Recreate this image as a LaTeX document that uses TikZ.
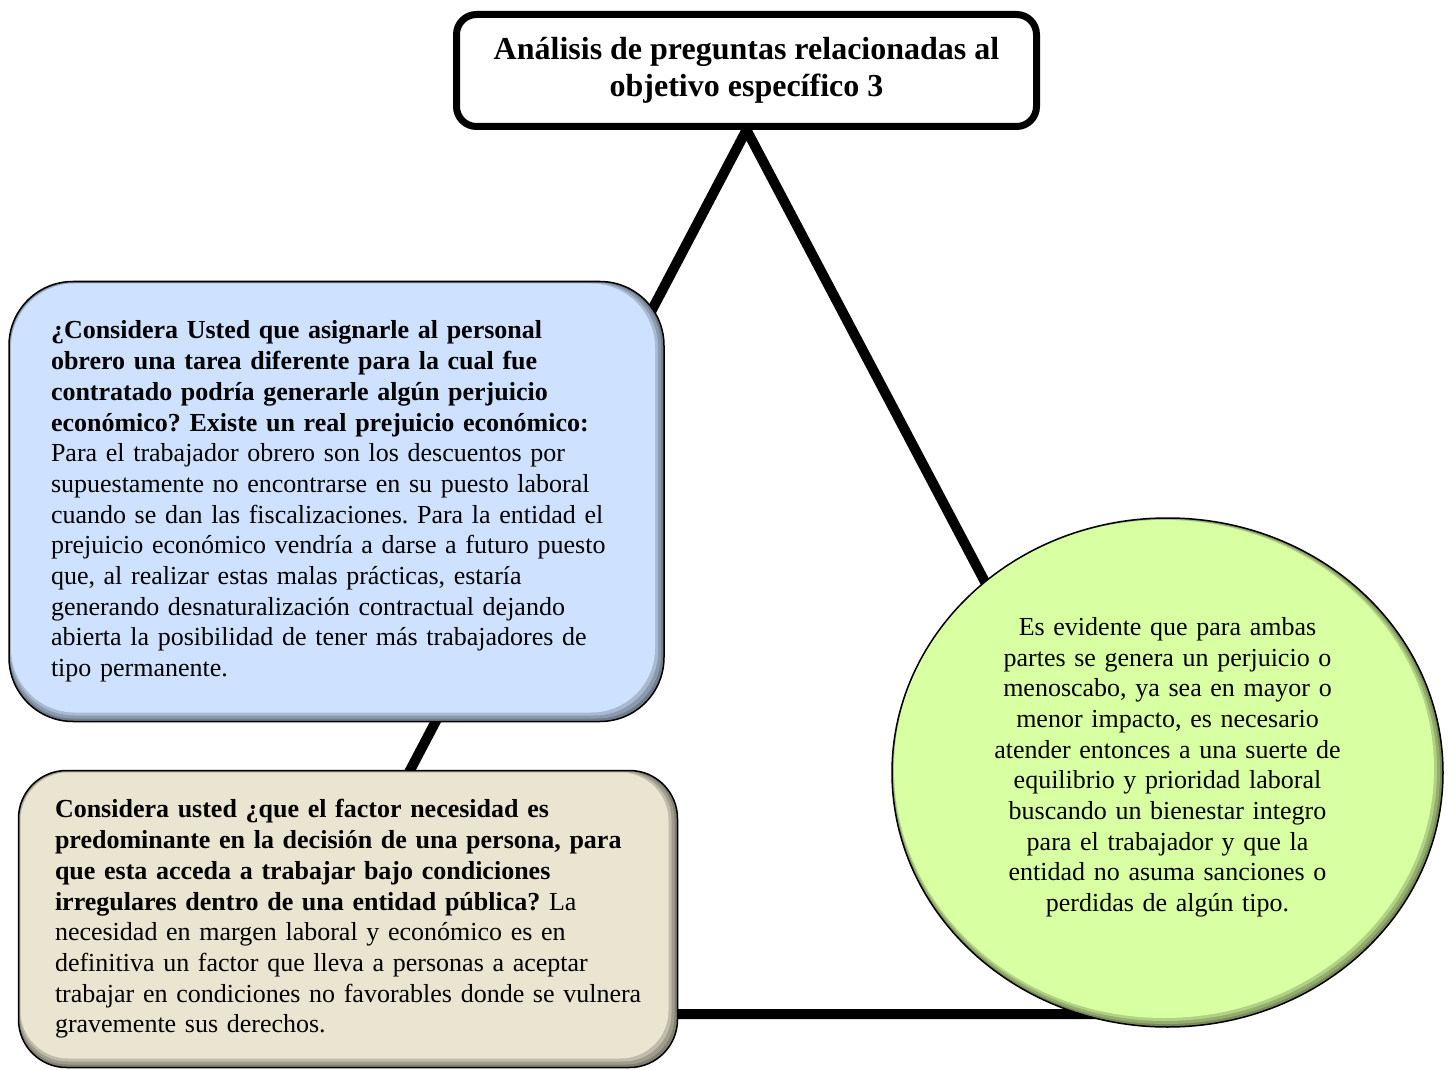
\documentclass[tikz,border=0pt]{standalone}
\usepackage{fontspec}
\setmainfont{Liberation Serif}
\usepackage{tikz}
\usetikzlibrary{shapes.geometric}
\usetikzlibrary{backgrounds}
\frenchspacing
\definecolor{cardblue}{RGB}{206,226,255}
\definecolor{cardbeige}{RGB}{234,229,208}
\definecolor{cardgreen}{RGB}{216,255,162}
\tikzset{
	edge/.style={draw=black, line width=5pt, line join=round},
	titlebox/.style={draw=black, line width=3.5pt, fill=white, rounded corners=10pt,
		minimum width=290pt, minimum height=56pt, inner sep=0pt, align=center,
		font=\fontsize{16}{18.5}\selectfont\bfseries},
	% rounded card with a soft bevel, darker on the lower right
	bevelbox/.style 2 args={draw=black, line width=0.75pt, rounded corners=#2,
		inner sep=0pt, align=left, font=\fontsize{13}{15.35}\selectfont,
		path picture={
			\foreach \ta/\tb/\tm in {0/0/55, 0.4/1.5/68, 0.7/3/82, 1/4.5/100}
				\fill[#1!\tm!black, rounded corners=#2]
					([shift={(\ta pt,-\ta pt)}]path picture bounding box.north west) rectangle
					([shift={(-\tb pt,\tb pt)}]path picture bounding box.south east);
		}},
	bevelround/.style={draw=black, line width=0.75pt, ellipse, inner sep=0pt,
		align=center, font=\fontsize{13}{15.35}\selectfont,
		path picture={
			\foreach \ta/\tb/\tm in {0/0/55, 0.4/1.5/68, 0.7/3/82, 1/4.5/100}
				\fill[#1!\tm!black]
					([shift={({(\ta-\tb)/2*1pt},{(\tb-\ta)/2*1pt})}]path picture bounding box.center)
					ellipse [x radius={137.75pt-(\ta+\tb)/2*1pt}, y radius={127.25pt-(\ta+\tb)/2*1pt}];
		}},
}

\begin{document}
\begin{tikzpicture}[x=0.5pt, y=-0.5pt]
	\useasboundingbox (0,0) rectangle (1453,1070);
	\node[titlebox] (title) at (746.5,70.5) {Análisis de preguntas relacionadas al\\objetivo específico 3};
	\node[bevelbox={cardblue}{32pt}, minimum width=327.5pt, minimum height=220pt, text width=285.5pt] (question1) at (336.5,501.5)
		{{\bfseries ¿Considera Usted que asignarle al personal\\
		obrero una tarea diferente para la cual fue\\
		contratado podría generarle algún perjuicio\\
		económico? Existe un real prejuicio económico:}\\
		Para el trabajador obrero son los descuentos por\\
		supuestamente no encontrarse en su puesto laboral\\
		cuando se dan las fiscalizaciones. Para la entidad el\\
		prejuicio económico vendría a darse a futuro puesto\\
		que, al realizar estas malas prácticas, estaría\\
		generando desnaturalización contractual dejando\\
		abierta la posibilidad de tener más trabajadores de\\
		tipo permanente.};
	\node[bevelbox={cardbeige}{24pt}, minimum width=329.5pt, minimum height=148.5pt, text width=293pt] (question2) at (348,919)
		{{\bfseries Considera usted ¿que el factor necesidad es\\
		predominante en la decisión de una persona, para\\
		que esta acceda a trabajar bajo condiciones\\
		irregulares dentro de una entidad pública?} La\\
		necesidad en margen laboral y económico es en\\
		definitiva un factor que lleva a personas a aceptar\\
		\mbox{trabajar en condiciones no favorables donde se vulnera}\\
		gravemente sus derechos.};
	\node[bevelround=cardgreen, minimum width=275.5pt, minimum height=254.5pt, text width=185pt] (answer) at (1167.5,772.5)
		{Es evidente que para ambas\\
		partes se genera un perjuicio o\\
		menoscabo, ya sea en mayor o\\
		menor impacto, es necesario\\
		atender entonces a una suerte de\\
		equilibrio y prioridad laboral\\
		buscando un bienestar integro\\
		para el trabajador y que la\\
		entidad no asuma sanciones o\\
		perdidas de algún tipo.\rule[-8pt]{0pt}{1pt}};
	\coordinate (lowleft) at (282,1014);
	\coordinate (lowright) at (1213,1014);
	\begin{scope}[on background layer]
		\draw[edge] (title.south) -- (lowleft) -- (lowright) -- cycle;
	\end{scope}
\end{tikzpicture}
\end{document}
